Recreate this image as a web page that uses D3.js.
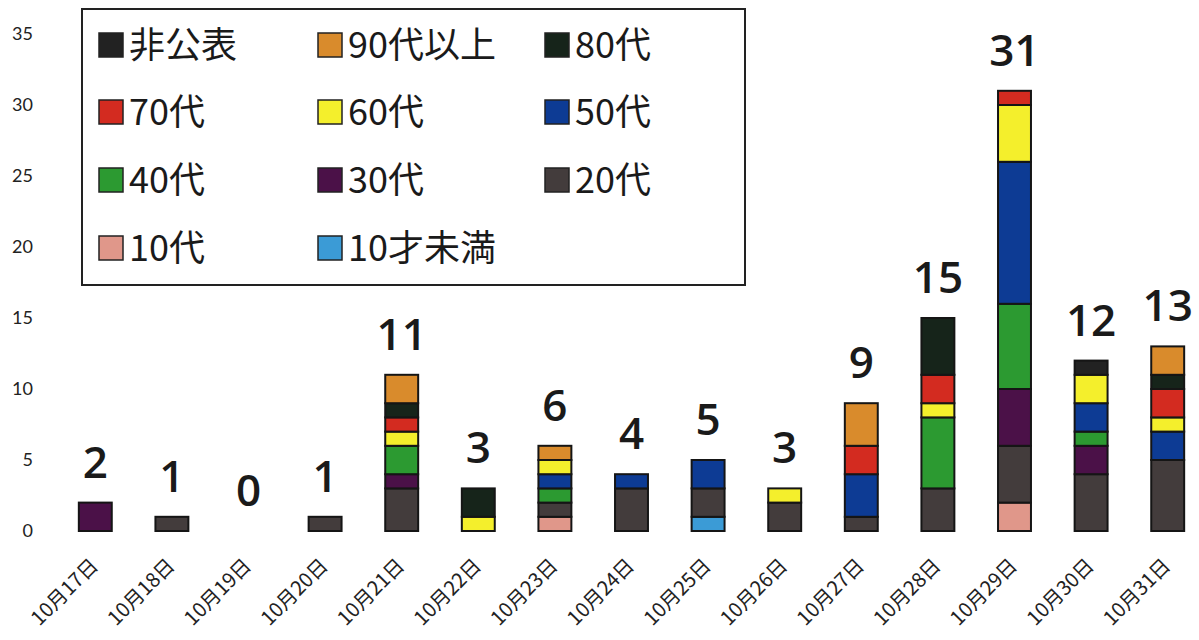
<!DOCTYPE html>
<html><head><meta charset="utf-8">
<script src="https://cdn.jsdelivr.net/npm/d3@7"></script>
<style>
html,body{margin:0;padding:0;background:#fff;}
svg{display:block;}
</style></head>
<body>
<svg id="c" width="1199" height="640"></svg>
<script>
const days = ["10月17日","10月18日","10月19日","10月20日","10月21日","10月22日","10月23日","10月24日","10月25日","10月26日","10月27日","10月28日","10月29日","10月30日","10月31日"];
const seriesNames = ["10才未満","10代","20代","30代","40代","50代","60代","70代","80代","90代以上","非公表"];
const under10 = [0,0,0,0,0,0,0,0,1,0,0,0,0,0,0];
const age10   = [0,0,0,0,0,0,1,0,0,0,0,0,2,0,0];
const age20   = [0,1,0,1,3,0,1,3,2,2,1,3,4,4,5];
const age30   = [2,0,0,0,1,0,0,0,0,0,0,0,4,2,0];
const age40   = [0,0,0,0,2,0,1,0,0,0,0,5,6,1,0];
const age50   = [0,0,0,0,0,0,1,1,2,0,3,0,10,2,2];
const age60   = [0,0,0,0,1,1,1,0,0,1,0,1,4,2,1];
const age70   = [0,0,0,0,1,0,0,0,0,0,2,2,1,0,2];
const age80   = [0,0,0,0,1,2,0,0,0,0,0,4,0,0,1];
const age90   = [0,0,0,0,2,0,1,0,0,0,3,0,0,0,2];
const undisclosed = [0,0,0,0,0,0,0,0,0,0,0,0,0,1,0];
const yTicks = [0,5,10,15,20,25,30,35];
const legendOrder = ["非公表","90代以上","80代","70代","60代","50代","40代","30代","20代","10代","10才未満"];

const colors = {
  "10才未満":"#3b9bd6","10代":"#e0978a","20代":"#433c3c","30代":"#4b1148","40代":"#2c9a31",
  "50代":"#0d3b94","60代":"#f4ef2c","70代":"#d32b20","80代":"#16241a","90代以上":"#d98b2c","非公表":"#222222"
};
const seriesValues = [under10,age10,age20,age30,age40,age50,age60,age70,age80,age90,undisclosed];

const table = days.map((d,i)=>{
  const row = {day:d};
  seriesNames.forEach((s,j)=>row[s]=seriesValues[j][i]);
  return row;
});
const totals = days.map((d,i)=>d3.sum(seriesValues,a=>a[i]));

const svg = d3.select("#c");
const x = d3.scaleBand().domain(days).range([57,1206]).paddingInner(0.57).paddingOuter(0.285);
const y = d3.scaleLinear().domain([0,35]).range([531,34]);

// y labels
const yAxis = d3.axisLeft(y).tickValues(yTicks).tickSize(0).tickPadding(0);
const gy = svg.append("g").attr("transform","translate(33,0)").call(yAxis);
gy.select(".domain").remove();
gy.selectAll("text").attr("font-family","Lato, 'Open Sans', sans-serif").attr("font-size",18).attr("fill","#222");

// x labels
const gx = svg.append("g");
gx.selectAll("text").data(days).join("text")
  .attr("transform",d=>`translate(${x(d)+x.bandwidth()/2+4},${567}) rotate(-45)`)
  .attr("text-anchor","end")
  .attr("font-family","'Noto Sans CJK JP', sans-serif")
  .attr("font-size",20).attr("fill","#222")
  .text(d=>d);

// stacks
const stack = d3.stack().keys(seriesNames);
const stacked = stack(table);
svg.append("g").selectAll("g").data(stacked).join("g")
  .attr("fill",d=>colors[d.key])
  .selectAll("rect").data(d=>d.filter(p=>p[1]-p[0]>0)).join("rect")
  .attr("x",d=>x(d.data.day))
  .attr("width",x.bandwidth())
  .attr("y",d=>y(d[1]))
  .attr("height",d=>y(d[0])-y(d[1]))
  .attr("stroke","#151515").attr("stroke-width",2);

// totals
svg.append("g").selectAll("text").data(days).join("text")
  .attr("x",d=>x(d)+x.bandwidth()/2)
  .attr("y",(d,i)=>y(totals[i])-25)
  .attr("text-anchor","middle")
  .attr("font-family","'Open Sans', Lato, sans-serif")
  .attr("font-size",44).attr("font-weight",600).attr("fill","#1a1a1a")
  .text((d,i)=>totals[i]);

// legend
const lg = svg.append("g");
lg.append("rect").attr("x",82).attr("y",9).attr("width",663).attr("height",276)
  .attr("fill","#fff").attr("stroke","#222").attr("stroke-width",2);
const colX = [99,318,545];
const rowY = [45,112,180,248];
legendOrder.forEach((name,i)=>{
  const cx = colX[i%3], cy = rowY[Math.floor(i/3)];
  lg.append("rect").attr("x",cx).attr("y",cy-12).attr("width",24).attr("height",24)
    .attr("fill",colors[name]).attr("stroke","#222").attr("stroke-width",1.5);
  lg.append("text").attr("x",cx+30).attr("y",cy).attr("dy","0.36em")
    .attr("font-family","'Noto Sans CJK JP', sans-serif").attr("font-size",36).attr("fill","#1a1a1a")
    .text(name);
});
</script>
</body></html>
